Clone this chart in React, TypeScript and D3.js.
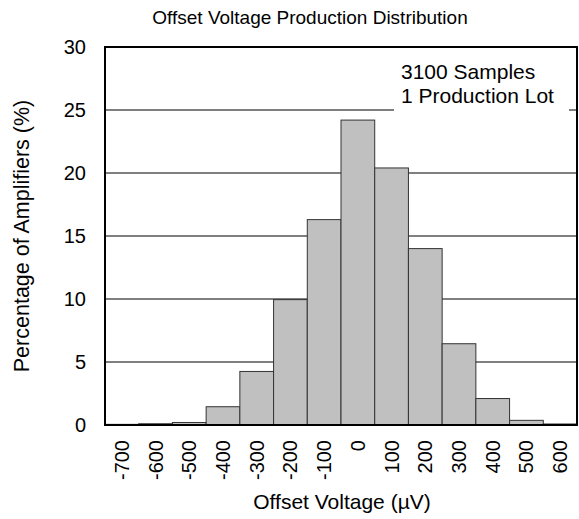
import React from 'react';
import * as d3 from 'd3';

const bins = ['-700', '-600', '-500', '-400', '-300', '-200', '-100', '0', '100', '200', '300', '400', '500', '600'];
const percents = [0.05, 0.1, 0.2, 1.45, 4.25, 9.95, 16.3, 24.2, 20.4, 14.0, 6.45, 2.1, 0.37, 0.08];
const yTicks = [0, 5, 10, 15, 20, 25, 30];
const notes = ['3100 Samples', '1 Production Lot'];

const W = 579;
const H = 519;
const margin = { top: 47, right: 2, bottom: 94, left: 105 };
const font = 'Arial, "Liberation Sans", sans-serif';

const App: React.FC = () => {
  const x = d3
    .scaleBand<string>()
    .domain(bins)
    .range([margin.left, W - margin.right])
    .padding(0);
  const y = d3
    .scaleLinear()
    .domain([0, 30])
    .range([H - margin.bottom, margin.top]);

  const left = margin.left;
  const right = W - margin.right;
  const top = margin.top;
  const bottom = H - margin.bottom;

  return (
    <svg
      width={W}
      height={H}
      style={{ position: 'absolute', left: 0, top: 0, background: '#fff' }}
      fontFamily={font}
    >
      {/* title */}
      <text x={310} y={24} textAnchor="middle" fontSize={19} fill="#000">
        Offset Voltage Production Distribution
      </text>

      {/* grid lines */}
      {yTicks.slice(1, -1).map((t) => (
        <line key={t} x1={left} x2={right} y1={y(t)} y2={y(t)} stroke="#000" strokeWidth={1} />
      ))}

      {/* note box */}
      <rect x={394} y={56} width={175} height={58} fill="#fff" />
      {notes.map((n, i) => (
        <text key={n} x={401} y={79 + i * 24} fontSize={21} fill="#000">
          {n}
        </text>
      ))}

      {/* bars */}
      {bins.map((b, i) => (
        <rect
          key={b}
          x={x(b)}
          y={y(percents[i])}
          width={x.bandwidth()}
          height={y(0) - y(percents[i])}
          fill="#c0c0c0"
          stroke="#333"
          strokeWidth={1}
        />
      ))}

      {/* frame */}
      <rect x={left} y={top} width={right - left} height={bottom - top} fill="none" stroke="#000" strokeWidth={2} />

      {/* y ticks */}
      {yTicks.map((t) => (
        <text key={t} x={86} y={y(t)} dy="0.35em" textAnchor="end" fontSize={20} fill="#000">
          {t}
        </text>
      ))}

      {/* x ticks */}
      {bins.map((b) => {
        const cx = (x(b) ?? 0) + x.bandwidth() / 2;
        return (
          <text
            key={b}
            transform={`translate(${cx},${bottom + 15}) rotate(-90)`}
            dy="0.35em"
            textAnchor="end"
            fontSize={20}
            fill="#000"
          >
            {b}
          </text>
        );
      })}

      {/* axis titles */}
      <text x={342} y={509} textAnchor="middle" fontSize={21} fill="#000">
        Offset Voltage (µV)
      </text>
      <text
        transform={`translate(29,${(top + bottom) / 2}) rotate(-90)`}
        textAnchor="middle"
        fontSize={21.5}
        fill="#000"
      >
        Percentage of Amplifiers (%)
      </text>
    </svg>
  );
};

export default App;
